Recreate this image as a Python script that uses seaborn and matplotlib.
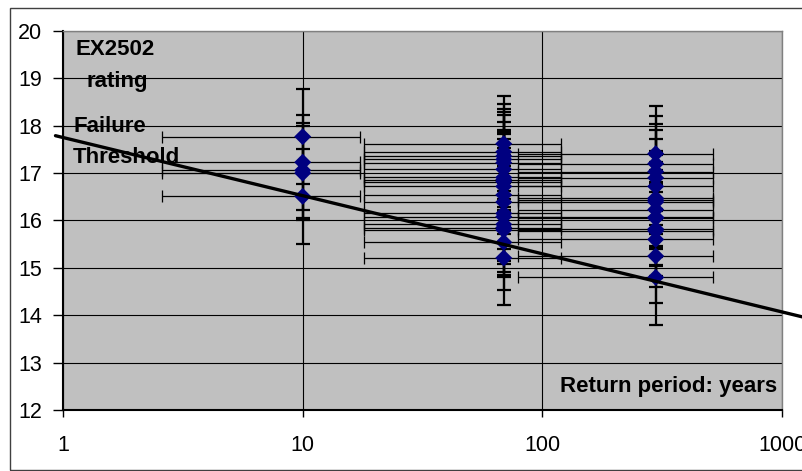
import numpy as np
import pandas as pd
import matplotlib.pyplot as plt
import seaborn as sns
from matplotlib.patches import Rectangle

# return period of each group of estimates (years) and its +/- spread
periods = [10, 69, 297]
period_err = [7.4, 51, 218]

# EX2502 rating estimates read off each group
rating_10 = [17.77, 17.23, 17.06, 17.00, 16.51]
rating_69 = [17.62, 17.45, 17.36, 17.29, 17.22, 17.08, 16.91, 16.86, 16.82,
             16.72, 16.54, 16.39, 16.15, 16.08, 15.92, 15.85, 15.80, 15.54, 15.21]
rating_297 = [17.41, 17.20, 17.03, 16.90, 16.72, 16.47, 16.43, 16.39, 16.23,
              16.07, 16.05, 15.82, 15.78, 15.60, 15.25, 14.80]
rating_err = 1.0

# failure threshold line (end points)
threshold_x = [0.93, 1300]
threshold_y = [17.79, 13.93]

y_ticks = [12, 13, 14, 15, 16, 17, 18, 19, 20]
x_ticks = [1, 10, 100, 1000]
x_labels = ['1', '10', '100', '1000']

rows = []
for p, e, vals in zip(periods, period_err, [rating_10, rating_69, rating_297]):
    for v in vals:
        rows.append({'period': p, 'rating': v, 'perr': e})
df = pd.DataFrame(rows)

sns.set_style('white')
plt.rcParams['font.family'] = ['Liberation Sans', 'DejaVu Sans']
plt.rcParams['text.color'] = 'black'
plt.rcParams['xtick.color'] = 'black'
plt.rcParams['ytick.color'] = 'black'

fig = plt.figure(figsize=(8.03, 4.71), dpi=100)
ax = fig.add_axes([0.0785, 0.1295, 0.8954, 0.8047])
ax.set_facecolor('#C0C0C0')

# outer chart frame
fig.patches.append(Rectangle((10 / 803, 0.003), 1.2, 0.98, transform=fig.transFigure,
                             fill=False, edgecolor='#404040', linewidth=1.0, zorder=0))

ax.set_xscale('log')
ax.set_xlim(1, 1000)
ax.set_ylim(12, 20)

ax.errorbar(df['period'], df['rating'], xerr=df['perr'], fmt='none',
            ecolor='black', elinewidth=0.9, capsize=4.5, capthick=0.9, zorder=3)
ax.errorbar(df['period'], df['rating'], yerr=rating_err, fmt='none',
            ecolor='black', elinewidth=1.6, capsize=4.8, capthick=1.6, zorder=3)

sns.scatterplot(data=df, x='period', y='rating', marker='D', color='#000080',
                s=75, edgecolor='none', linewidth=0, zorder=4, ax=ax, legend=False)

sns.lineplot(x=threshold_x, y=threshold_y, color='black', linewidth=2.4, ax=ax, zorder=5)
ax.lines[-1].set_clip_on(False)

ax.set_xticks(x_ticks)
ax.set_xticklabels(x_labels)
ax.xaxis.set_minor_locator(plt.NullLocator())
ax.set_yticks(y_ticks)
ax.grid(True, color='black', linewidth=0.8)
ax.set_axisbelow(True)
ax.set_xlabel('')
ax.set_ylabel('')

ax.tick_params(axis='y', direction='out', length=7, width=1, pad=8, labelsize=15.5,
               left=True, color='black', labelcolor='black')
ax.tick_params(axis='x', direction='out', length=5, width=1, pad=13, labelsize=15.5,
               bottom=True, color='black', labelcolor='black')

for s in ['left', 'bottom']:
    ax.spines[s].set_color('black')
    ax.spines[s].set_linewidth(1.5)
for s in ['top', 'right']:
    ax.spines[s].set_color('#808080')
    ax.spines[s].set_linewidth(1.0)

bold = dict(fontsize=16, fontweight='bold', color='black', transform=ax.transAxes,
            va='center')
ax.text(0.018, 0.952, 'EX2502', ha='left', **bold)
ax.text(0.032, 0.868, 'rating', ha='left', **bold)
ax.text(0.014, 0.749, 'Failure', ha='left', **bold)
ax.text(0.014, 0.665, 'Threshold', ha='left', **bold)
ax.text(0.993, 0.061, 'Return period: years', ha='right', **bold)

fig.savefig('out.png', dpi=100)
